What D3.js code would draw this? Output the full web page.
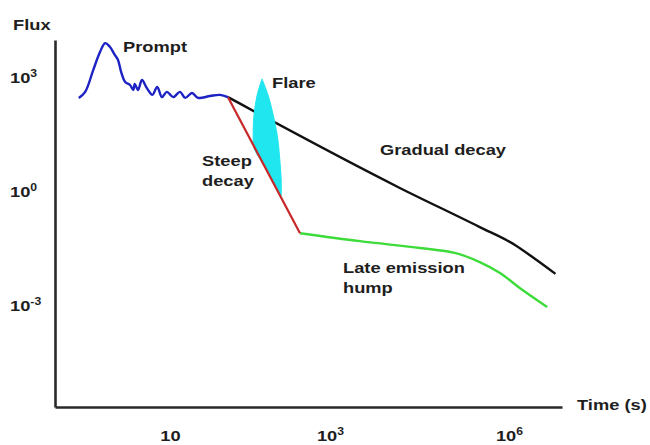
<!DOCTYPE html>
<html><head><meta charset="utf-8">
<script src="https://cdn.jsdelivr.net/npm/d3@7"></script>
<style>
html,body{margin:0;padding:0;background:#fff;}
svg{display:block;font-family:"Liberation Sans",Arial,sans-serif;font-weight:bold;}
</style>
</head><body>
<svg id="c" width="650" height="445"></svg>
<script>
// ---- data (log10 time [s], log10 flux) ----
const promptLogTime = [-0.14,-0.06,0.04,0.125,0.19,0.25,0.31,0.35,0.39,0.44,0.5,0.54,0.56,0.6,0.65,0.71,0.78,0.84,0.9,0.96,1.04,1.125,1.19,1.275,1.35,1.5,1.625,1.725];
const promptLogFlux = [2.45,2.61,3.18,3.66,3.89,3.79,3.58,3.45,3.13,2.87,2.79,2.66,2.82,2.66,2.92,2.71,2.53,2.74,2.47,2.61,2.47,2.61,2.45,2.58,2.45,2.50,2.53,2.47];

const gradualLogTime = [1.725,4.17,5.51,6.10,6.44,6.78];
const gradualLogFlux = [2.47,0.08,-0.95,-1.42,-1.79,-2.18];

const steepLogTime = [1.725,2.625];
const steepLogFlux = [2.47,-1.11];

const humpLogTime = [2.625,3.50,4.51,5.09,5.51,5.85,6.18,6.64];
const humpLogFlux = [-1.11,-1.32,-1.50,-1.63,-1.87,-2.16,-2.55,-3.05];

const flareLogFlux  = [2.95,2.53,2.0,1.47,1.13,0.76,0.29,-0.13];
const flareLeftTime = [2.15,2.09,2.05,2.04,2.05,2.15,2.275,2.375];
const flareRightTime= [2.15,2.225,2.29,2.34,2.36,2.375,2.39,2.39];

const xTickValues = [1,3,6];
const xTickExp = ["","3","6"];
const yTickValues = [3,0,-3];
const yTickExp = ["3","0","-3"];

const labels = ["Flux","Prompt","Flare","Steep","decay","Gradual decay","Late emission","hump","Time (s)"];

// ---- drawing ----
const svg = d3.select("#c");
const SX = 1.22, FS = 15, INK = "#1e1e1e";

const x = d3.scaleLinear().domain([-0.4375,1,3,6,6.89]).range([55,170,330,509,562]);
const y = d3.scaleLinear().domain([-5.684,3.974]).range([407,40]);

const zip = (a,b)=>a.map((v,i)=>[v,b[i]]);
const line = d3.line().x(d=>x(d[0])).y(d=>y(d[1]));

// gradual decay (black)
svg.append("path").datum(zip(gradualLogTime,gradualLogFlux))
  .attr("d", line.curve(d3.curveMonotoneX))
  .attr("fill","none").attr("stroke","#111").attr("stroke-width",2.4);

// flare (cyan)
const area = d3.area()
  .y(d=>y(d.f)).x0(d=>x(d.l)).x1(d=>x(d.r)).curve(d3.curveCatmullRom);
svg.append("path")
  .datum(flareLogFlux.map((f,i)=>({f, l:flareLeftTime[i], r:flareRightTime[i]})))
  .attr("d",area).attr("fill","#1fe6ef").attr("stroke","#1fe6ef").attr("stroke-width",1);

// green hump
svg.append("path").datum(zip(humpLogTime,humpLogFlux))
  .attr("d", d3.line().x(d=>x(d[0])).y(d=>y(d[1])).curve(d3.curveCatmullRom))
  .attr("fill","none").attr("stroke","#3ddc3a").attr("stroke-width",2.4);

// red steep decay
svg.append("path").datum(zip(steepLogTime,steepLogFlux))
  .attr("d", d3.line().x(d=>x(d[0])).y(d=>y(d[1])))
  .attr("fill","none").attr("stroke","#c8282a").attr("stroke-width",2.2);

// blue prompt
svg.append("path").datum(zip(promptLogTime,promptLogFlux))
  .attr("d", d3.line().x(d=>x(d[0])).y(d=>y(d[1])).curve(d3.curveCatmullRom))
  .attr("fill","none").attr("stroke","#1c22c4").attr("stroke-width",2.4)
  .attr("stroke-linejoin","round");

// axes
function supLabel(sel, base, exp){
  sel.text(null);
  sel.append("tspan").text(base);
  if(exp) sel.append("tspan").attr("font-size",10).attr("dy",-6).text(exp);
}
const gx = svg.append("g").attr("transform","translate(0,407)")
  .call(d3.axisBottom(x).tickValues(xTickValues).tickSize(0).tickSizeOuter(0).tickFormat(()=>""));
gx.select(".domain").attr("stroke","#2a2a2a").attr("stroke-width",2.6);
gx.selectAll(".tick text").each(function(d,i){
  const t = d3.select(this)
    .attr("x",0).attr("y",0).attr("dy",0)
    .attr("transform",`translate(0,34) scale(${SX},1)`)
    .attr("font-size",FS).attr("font-weight","bold").attr("fill",INK)
    .attr("font-family","'Liberation Sans',Arial,sans-serif");
  supLabel(t,"10",xTickExp[i]);
});

const gy = svg.append("g").attr("transform","translate(55,0)")
  .call(d3.axisLeft(y).tickValues(yTickValues).tickSize(0).tickSizeOuter(0).tickFormat(()=>""));
gy.select(".domain").attr("stroke","#2a2a2a").attr("stroke-width",2.6);
gy.selectAll(".tick text").each(function(d,i){
  const t = d3.select(this)
    .attr("x",0).attr("y",0).attr("dy","0.36em")
    .attr("text-anchor","start")
    .attr("transform",`translate(-45,0) scale(${SX},1)`)
    .attr("font-size",FS).attr("font-weight","bold").attr("fill",INK)
    .attr("font-family","'Liberation Sans',Arial,sans-serif");
  supLabel(t,"10",yTickExp[i]);
});

// annotations (pixel layout)
const labelPos = [[13,30],[123,52],[272,88],[202,166],[202,186],[380,155],[343,273],[343,293],[577,410]];
svg.append("g").selectAll("text").data(labels).join("text")
  .attr("transform",(d,i)=>`translate(${labelPos[i][0]},${labelPos[i][1]}) scale(${SX},1)`)
  .attr("font-size",FS).attr("fill",INK).text(d=>d);
</script>
</body></html>
